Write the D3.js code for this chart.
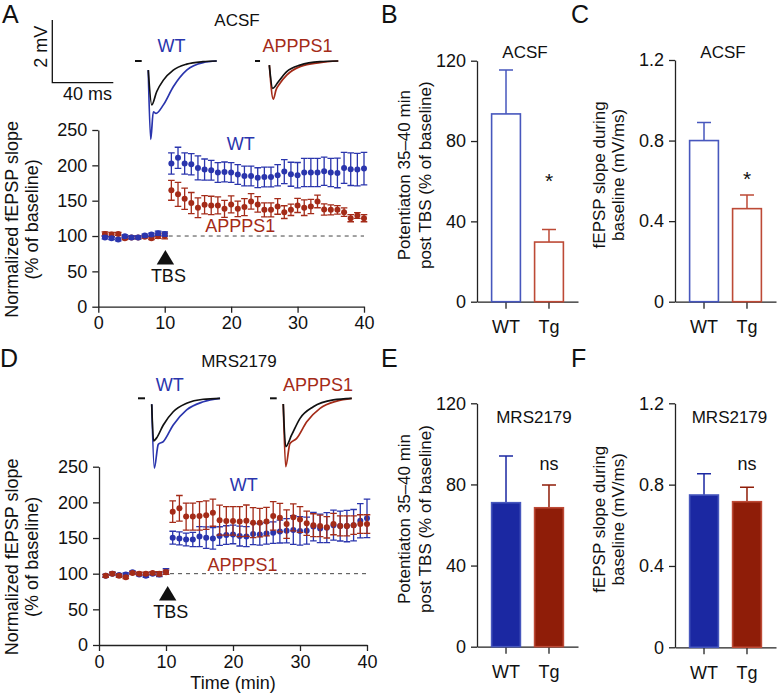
<!DOCTYPE html>
<html>
<head>
<meta charset="utf-8">
<script src="https://cdn.jsdelivr.net/npm/d3@7"></script>
<style>
body { margin: 0; background: #fff; }
svg text { font-family: "Liberation Sans", Arial, sans-serif; }
</style>
</head>
<body>
<script>
// ---------------- data ----------------
var minutes = [1,2,3,4,5,6,7,8,9,10,11,12,13,14,15,16,17,18,19,20,
               21,22,23,24,25,26,27,28,29,30,31,32,33,34,35,36,37,38,39,40];
var timeTicks = [0,10,20,30,40];
var pctTicks = [0,50,100,150,200,250];

// ACSF time course (% of baseline)
var acsfWT = [98,97,95,99.6,98,98,100.6,102,104,103,
              202.6,210.6,202.6,201.6,196.4,194,193,189.8,190.7,189.8,
              187,185,185,182.6,183.6,183.6,186,191.2,187.4,186,
              189.8,189.8,189.8,191.7,189.8,189.3,196.4,194.5,194,195.4];
var acsfWTErr = [2,2,2,2,2,2,2,2,3,3,
                 15,15,15,15,17,15,14,14,14,14,14,14,14,14,14,14,15,17,17,18,
                 20,20,20,20,20,21,22,23,23,23];
var acsfAPP = [103,102,103,97,98,98,99,97,99.6,100,
               164.6,159,152.8,146.6,140,144.2,143.3,143.3,138.5,144.7,
               138.5,140.9,149,144.7,137,137,141.8,133.8,137,143.3,
               140,141.8,149,137.6,137,137,133.8,125.2,129,125.2];
var acsfAPPErr = [3,3,2,2,2,2,2,2,3,4,
                  14,17,15,15,14,13,13,12,12,12,11,12,11,11,10,10,11,9,8,10,
                  11,10,9,8,7,6,6,5,4,5];

// MRS2179 time course (% of baseline)
var mrsWT = [97,100,98,99,102,99,97,100,99,103,
             150.5,149.5,148,148,152,150.5,149.5,152.8,154.2,155,
             152.8,152,155.6,155,156.5,157.5,159,160.3,161.2,160,
             160.3,166,163.5,164.5,168,166.8,166.8,168,174.3,177.6];
var mrsWTErr = [2,2,2,2,2,2,2,2,3,4,
                9,9,9,10,14,15,15,13,13,13,14,14,15,15,15,15,16,17,20,20,
                19,20,20,21,21,21,22,22,24,27];
var mrsAPP = [97,100,97,95,101,100,100,101,100,102,
              187,191.6,180,180,181,182,185.5,175,174,174,
              173,174.3,171.5,171.5,173,181,178.5,169.6,179,176,
              170.6,168,167,165,169.6,167,167,168,169.6,169.6];
var mrsAPPErr = [2,2,2,2,2,2,2,2,3,3,
                 15,18,19,19,20,20,19,21,20,20,21,22,21,20,20,20,20,20,19,18,
                 17,16,15,15,15,14,14,13,13,13];

// bar panels
var groups = ["WT","Tg"];
var potTicks = [0,40,80,120];
var slopeTicks = [0,0.4,0.8,1.2];
var acsfPot = [93.5,29.7];
var acsfPotErr = [21.9,6.2];
var acsfSlope = [0.80,0.462];
var acsfSlopeErr = [0.09,0.068];
var mrsPot = [71,68.5];
var mrsPotErr = [23,11.2];
var mrsSlope = [0.749,0.716];
var mrsSlopeErr = [0.105,0.071];

// example fEPSP traces: [ms, mV] from the start of each inset
var acsfWTBlack = [[8.7,-0.29],[11.0,-1.40],[14.2,-0.98],[18.6,-0.61],[25.1,-0.29],[33.9,-0.10],[44.6,-0.02],[53.6,0]];
var acsfWTBlue  = [[8.7,-0.29],[10.3,-2.50],[12.0,-1.62],[13.8,-1.67],[18.6,-1.40],[25.1,-0.82],[33.9,-0.29],[44.6,-0.05],[53.6,0]];
var acsfAPPBlack = [[9.4,-0.13],[11.6,-0.87],[15.3,-0.66],[20.8,-0.34],[29.5,-0.13],[42.6,-0.02],[54.6,0]];
var acsfAPPRed   = [[9.4,-0.13],[12.0,-1.22],[13.8,-0.92],[16.4,-0.71],[20.8,-0.45],[29.5,-0.18],[42.6,-0.05],[54.6,0]];
var mrsWTBlack = [[9.0,-0.19],[10.2,-1.36],[12.1,-1.27],[16.6,-0.85],[23.1,-0.43],[31.9,-0.16],[42.8,-0.03],[53.8,0]];
var mrsWTBlue  = [[9.0,-0.19],[10.7,-2.23],[13.3,-1.47],[16.6,-1.38],[23.1,-0.85],[31.9,-0.37],[42.8,-0.11],[53.8,0]];
var mrsAPPBlack = [[8.7,-0.18],[10.3,-1.54],[14.2,-1.17],[19.7,-0.64],[28.4,-0.27],[41.5,-0.05],[53.6,0]];
var mrsAPPRed   = [[8.7,-0.18],[10.3,-2.18],[13.1,-1.44],[17.5,-1.28],[24.1,-0.75],[32.8,-0.32],[43.7,-0.09],[53.6,0]];

var blue = "#2a35ad", red = "#a42b18";
var blueLine = "#4757bd", redLine = "#bd4a36";
var blueFill = "#1b28a2", redFill = "#8f1d08";

var svg = d3.select("body").append("svg")
    .attr("width", 777)
    .attr("height", 694);

function styleAxis(sel) {
  sel.attr("font-size", 18).attr("font-family", "Liberation Sans, Arial, sans-serif");
  sel.selectAll("path, line").attr("stroke", "#222").attr("stroke-width", 1.3);
  sel.selectAll("text").attr("fill", "#111");
}

function addText(x, y, str, opts) {
  opts = opts || {};
  var t = svg.append("text")
      .attr("x", x).attr("y", y)
      .attr("text-anchor", opts.anchor || "middle")
      .attr("font-size", opts.size || 17)
      .attr("fill", opts.color || "#111")
      .text(str);
  if (opts.rotate) t.attr("transform", "rotate(-90," + x + "," + y + ")");
  return t;
}

//******************************************************************************
//****************************** Panel letters *********************************
[["A",2,23],["B",381,23],["C",571,23],["D",0,367],["E",381,367],["F",571,367]].forEach(function(d){
  addText(d[1], d[2], d[0], {anchor: "start", size: 25});
});

//******************************************************************************
//****************************** Traces ****************************************
var msPx = 1.525, mvPx = 31.35;

function drawTrace(ox, oy, dashEnd, lines) {
  var tx = d3.scaleLinear().domain([0, 40]).range([ox, ox + 40 * msPx]);
  var ty = d3.scaleLinear().domain([0, -2]).range([oy, oy + 2 * mvPx]);
  svg.append("line")
    .attr("x1", tx(0)).attr("x2", tx(dashEnd))
    .attr("y1", ty(0)).attr("y2", ty(0))
    .attr("stroke", "#111").attr("stroke-width", 2);
  var line = d3.line()
    .x(function(d){ return tx(d[0]); })
    .y(function(d){ return ty(d[1]); })
    .curve(d3.curveMonotoneX);
  lines.forEach(function(l){
    svg.append("path")
      .attr("d", line(l.pts))
      .attr("fill", "none")
      .attr("stroke", l.color)
      .attr("stroke-width", 1.7);
  });
}

// scale bar 2 mV / 40 ms
var sbx = d3.scaleLinear().domain([0, 40]).range([52.3, 52.3 + 40 * msPx]);
var sby = d3.scaleLinear().domain([0, 2]).range([82.7, 82.7 - 2 * mvPx]);
svg.append("path")
  .attr("d", "M" + sbx(0) + "," + sby(2) + "V" + sby(0) + "H" + sbx(40))
  .attr("fill", "none").attr("stroke", "#111").attr("stroke-width", 1.3);
addText(47, 46.7, "2 mV", {rotate: true, size: 18});
addText(87.5, 100, "40 ms", {size: 18});

addText(237, 26, "ACSF");
addText(171.5, 51.7, "WT", {color: blue, size: 18});
addText(297.5, 51.7, "APPPS1", {color: red, size: 18});
drawTrace(135, 61, 4.4, [{pts: acsfWTBlue, color: blue}, {pts: acsfWTBlack, color: "#111"}]);
drawTrace(255, 61, 3.3, [{pts: acsfAPPRed, color: red}, {pts: acsfAPPBlack, color: "#111"}]);

addText(239, 367, "MRS2179");
addText(169.7, 391, "WT", {color: blue, size: 18});
addText(318, 391, "APPPS1", {color: red, size: 18});
drawTrace(138, 398.3, 4.6, [{pts: mrsWTBlue, color: blue}, {pts: mrsWTBlack, color: "#111"}]);
drawTrace(270, 398.3, 4.4, [{pts: mrsAPPRed, color: red}, {pts: mrsAPPBlack, color: "#111"}]);

//******************************************************************************
//****************************** Time courses **********************************
function drawTimeCourse(p) {
  var x = d3.scaleLinear().domain([0, 40]).range(p.xr);
  var y = d3.scaleLinear().domain([0, 250]).range(p.yr);

  var ax = svg.append("g").attr("transform", "translate(0," + y(0) + ")")
    .call(d3.axisBottom(x).tickValues(timeTicks).tickSize(6).tickPadding(4).tickSizeOuter(0));
  var ay = svg.append("g").attr("transform", "translate(" + x(0) + ",0)")
    .call(d3.axisLeft(y).tickValues(pctTicks).tickSize(6).tickPadding(5).tickSizeOuter(0));
  styleAxis(ax); styleAxis(ay);

  svg.append("line")
    .attr("x1", x(10.6)).attr("x2", x(40))
    .attr("y1", y(100)).attr("y2", y(100))
    .attr("stroke", "#444").attr("stroke-width", 1)
    .attr("stroke-dasharray", "4,4");

  p.series.forEach(function(s){
    var g = svg.append("g");
    var pts = minutes.map(function(m, i){ return {m: m, v: s.values[i], e: s.errors[i]}; });
    g.selectAll(".eb").data(pts).enter().append("path")
      .attr("d", function(d){
        var cx = x(d.m), t = y(d.v + d.e), b = y(d.v - d.e);
        return "M" + cx + "," + t + "V" + b +
               "M" + (cx - 3.3) + "," + t + "H" + (cx + 3.3) +
               "M" + (cx - 3.3) + "," + b + "H" + (cx + 3.3);
      })
      .attr("fill", "none").attr("stroke", s.color).attr("stroke-width", 1.3);
    g.selectAll("circle").data(pts).enter().append("circle")
      .attr("cx", function(d){ return x(d.m); })
      .attr("cy", function(d){ return y(d.v); })
      .attr("r", 3)
      .attr("fill", s.color);
  });

  // TBS marker
  var tbx = x(p.tbs);
  svg.append("path")
    .attr("d", "M" + tbx + "," + p.triTop + "L" + (tbx + 8.7) + "," + (p.triTop + 14.5) + "L" + (tbx - 8.7) + "," + (p.triTop + 14.5) + "Z")
    .attr("fill", "#111");
  addText(tbx + 3, p.triTop + 31.5, "TBS", {size: 18});

  addText(p.wtLabel[0], p.wtLabel[1], "WT", {color: blue, size: 18});
  addText(p.appLabel[0], p.appLabel[1], "APPPS1", {color: red, size: 18});

  var cy = (p.yr[0] + p.yr[1]) / 2 + 1;
  addText(18, cy, "Normalized fEPSP slope", {rotate: true, size: 18});
  addText(38.5, cy, "(% of baseline)", {rotate: true, size: 18});
  if (p.xlabel) addText((p.xr[0] + p.xr[1]) / 2, p.xlabelY, p.xlabel, {size: 18});
}

drawTimeCourse({
  xr: [98.3, 364], yr: [306.7, 130],
  series: [{values: acsfAPP, errors: acsfAPPErr, color: red},
           {values: acsfWT, errors: acsfWTErr, color: blue}],
  tbs: 10.1, triTop: 250,
  wtLabel: [240.8, 150], appLabel: [240.3, 231.7]
});

drawTimeCourse({
  xr: [99, 367], yr: [645, 466.7],
  series: [{values: mrsWT, errors: mrsWTErr, color: blue},
           {values: mrsAPP, errors: mrsAPPErr, color: red}],
  tbs: 10.25, triTop: 586,
  wtLabel: [243.8, 490.7], appLabel: [242.5, 570.7],
  xlabel: "Time (min)", xlabelY: 689
});

//******************************************************************************
//****************************** Bar panels ************************************
function drawBars(p) {
  var x = d3.scaleBand().domain(groups).range(p.xr).paddingInner(0.33).paddingOuter(0.34);
  var y = d3.scaleLinear().domain([0, p.ticks[p.ticks.length - 1]]).range(p.yr);

  var ax = svg.append("g").attr("transform", "translate(0," + y(0) + ")")
    .call(d3.axisBottom(x).tickSize(7).tickPadding(12).tickSizeOuter(0));
  var ay = svg.append("g").attr("transform", "translate(" + p.xr[0] + ",0)")
    .call(d3.axisLeft(y).tickValues(p.ticks).tickFormat(d3.format("")).tickSize(6).tickPadding(5).tickSizeOuter(0));
  styleAxis(ax); styleAxis(ay);

  var data = groups.map(function(gname, i){ return {g: gname, v: p.values[i], e: p.errors[i], i: i}; });
  var outline = [blueLine, redLine];
  var fill = p.filled ? [blueFill, redFill] : ["#fff", "#fff"];

  svg.selectAll(null).data(data).enter().append("path")
    .attr("d", function(d){
      var cx = x(d.g) + x.bandwidth() / 2, t = y(d.v + d.e);
      return "M" + cx + "," + y(d.v) + "V" + t + "M" + (cx - 7) + "," + t + "H" + (cx + 7);
    })
    .attr("fill", "none")
    .attr("stroke", function(d){ return p.filled ? [blueFill, redFill][d.i] : outline[d.i]; })
    .attr("stroke-width", 1.5);

  svg.selectAll(null).data(data).enter().append("rect")
    .attr("x", function(d){ return x(d.g); })
    .attr("y", function(d){ return y(d.v); })
    .attr("width", x.bandwidth())
    .attr("height", function(d){ return y(0) - y(d.v); })
    .attr("fill", function(d){ return fill[d.i]; })
    .attr("stroke", function(d){ return outline[d.i]; })
    .attr("stroke-width", 1.6);

  addText(p.title[0], p.title[1], p.titleText);
  addText(x("Tg") + x.bandwidth() / 2, p.markY, p.mark, {size: p.mark === "*" ? 21 : 18});

  var cy = (p.yr[0] + p.yr[1]) / 2 - 6;
  addText(p.labX[0], cy, p.label[0], {rotate: true});
  addText(p.labX[1], cy, p.label[1], {rotate: true});
}

var potLabel = ["Potentiaton 35\u201340 min", "post TBS (% of baseline)"];
var slopeLabel = ["fEPSP slope during", "baseline (mV/ms)"];

drawBars({xr: [477, 578], yr: [301.7, 60.7], ticks: potTicks, values: acsfPot, errors: acsfPotErr,
          filled: false, titleText: "ACSF", title: [525, 58.3], mark: "*", markY: 188,
          label: potLabel, labX: [410, 431]});
drawBars({xr: [675, 776], yr: [301.7, 60], ticks: slopeTicks, values: acsfSlope, errors: acsfSlopeErr,
          filled: false, titleText: "ACSF", title: [723, 58.3], mark: "*", markY: 186,
          label: slopeLabel, labX: [605, 624]});
drawBars({xr: [477, 578], yr: [646.7, 403.3], ticks: potTicks, values: mrsPot, errors: mrsPotErr,
          filled: true, titleText: "MRS2179", title: [534, 423.3], mark: "ns", markY: 470,
          label: potLabel, labX: [410, 431]});
drawBars({xr: [675, 776], yr: [647.3, 403.3], ticks: slopeTicks, values: mrsSlope, errors: mrsSlopeErr,
          filled: true, titleText: "MRS2179", title: [729.5, 423.3], mark: "ns", markY: 470,
          label: slopeLabel, labX: [605, 624]});
</script>
</body>
</html>
